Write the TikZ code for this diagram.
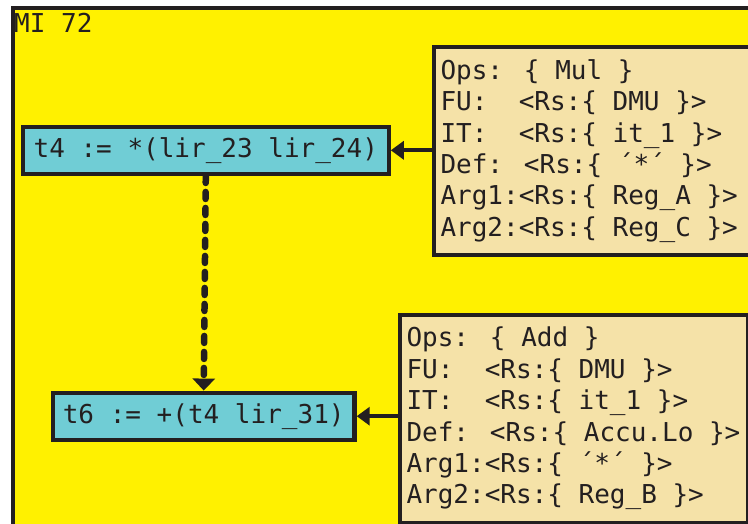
\documentclass[tikz,border=0pt]{standalone}
\usepackage{fontspec}
\newfontfamily\monofont{DejaVu Sans Mono}
\usetikzlibrary{arrows.meta}
\definecolor{bgyellow}{HTML}{FFF100}
\definecolor{opcyan}{HTML}{70CDD5}
\definecolor{attrbeige}{HTML}{F5E2A8}
\definecolor{inkblack}{HTML}{231F20}
\tikzset{
  txt/.style={font=\monofont\fontsize{26}{31.4}\selectfont, text=inkblack},
  opbox/.style={txt, draw=inkblack, line width=4.3pt, fill=opcyan, inner sep=0pt, minimum height=47pt},
  attrbox/.style={txt, draw=inkblack, line width=4pt, fill=attrbeige, inner xsep=6.5pt, inner ysep=0pt,
     align=left, minimum height=208pt, anchor=north west},
  sidearrow/.style={draw=inkblack, line width=4pt, -{Triangle[width=18pt,length=13pt]}},
  deparrow/.style={draw=inkblack, line width=6.5pt, line cap=round, dash pattern=on 7pt off 9pt,
     -{Triangle[width=22pt,length=12pt]}}
}
\begin{document}
\begin{tikzpicture}[x=1pt,y=-1pt]
\useasboundingbox (0,0) rectangle (748,524);
\clip (0,0) rectangle (748,524);
% outer frame
\fill[bgyellow] (12.8,7.8) rectangle (800,600);
\draw[inkblack, line width=4.3pt] (12.8,600) |- (800,7.8);
\node[txt, anchor=base west, inner sep=0pt] (title) at (14,33) {MI 72};
% operation nodes
\node[opbox, minimum width=365.7pt] (t4) at (205.8,150.3) {t4 := *(lir\_23 lir\_24)};
\node[opbox, minimum width=301.7pt] (t6) at (203.7,416.2) {t6 := +(t4 lir\_31)};
% attribute boxes
\node[attrbox, text width=330pt] (attrA) at (432,45) {\spaceskip=0pt \xspaceskip=0pt Ops: \{ Mul \}\\FU:~~<Rs:\{ DMU \}>\\IT:~~<Rs:\{ it\_1 \}>\\Def: <Rs:\{ ´*´ \}>\\Arg1:<Rs:\{ Reg\_A \}>\\Arg2:<Rs:\{ Reg\_C \}>};
\node[attrbox, text width=335pt] (attrB) at (398,312.5) {\spaceskip=0pt \xspaceskip=0pt Ops: \{ Add \}\\FU:~~<Rs:\{ DMU \}>\\IT:~~<Rs:\{ it\_1 \}>\\Def: <Rs:\{ Accu.Lo \}>\\Arg1:<Rs:\{ ´*´ \}>\\Arg2:<Rs:\{ Reg\_B \}>};
% connectors
\draw[sidearrow] (attrA.west |- t4.east) -- (t4.east);
\draw[sidearrow] (attrB.west |- t6.east) -- (t6.east);
\draw[deparrow] (t4.south) -- (t6.north);
\end{tikzpicture}
\end{document}
